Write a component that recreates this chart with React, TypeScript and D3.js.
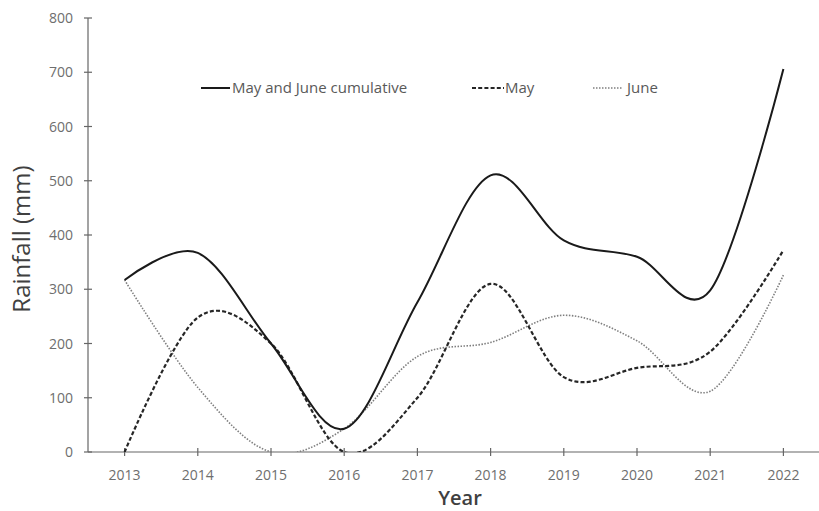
import React from "react";
import * as d3 from "d3";

const years = [2013, 2014, 2015, 2016, 2017, 2018, 2019, 2020, 2021, 2022];
const cumulative = [317, 367, 200, 43, 276, 510, 390, 360, 298, 706];
const may = [0, 248, 200, 0, 100, 310, 138, 155, 185, 372];
const june = [317, 119, 0, 43, 176, 202, 252, 205, 112, 326];
const yTicks = [0, 100, 200, 300, 400, 500, 600, 700, 800];

const W = 819;
const H = 511;

export default function App() {
  const x = d3.scaleLinear().domain([2012.5, 2022.5]).range([88, 820]);
  const y = d3.scaleLinear().domain([0, 800]).range([452, 18]);
  const line = (vals: number[]) =>
    d3
      .line<number>()
      .x((_, i) => x(years[i]))
      .y((v) => y(v))
      .curve(d3.curveCardinal.tension(0))(vals) || "";

  const font = "'Open Sans', 'DejaVu Sans', sans-serif";
  const axisColor = "#666666";
  const labelColor = "#6e6e6e";

  return (
    <svg
      width={W}
      height={H}
      style={{ position: "absolute", left: 0, top: 0, background: "#fff" }}
    >
      <defs>
        <clipPath id="plot">
          <rect x={88} y={0} width={732} height={452} />
        </clipPath>
      </defs>
      {/* y axis */}
      <line x1={88} x2={88} y1={y(800)} y2={y(0)} stroke={axisColor} strokeWidth={1.2} />
      {yTicks.map((t) => (
        <g key={t}>
          <line x1={84} x2={92} y1={y(t)} y2={y(t)} stroke={axisColor} strokeWidth={1.2} />
          <text
            x={73}
            y={y(t) + 5}
            textAnchor="end"
            fontFamily={font}
            fontSize={14}
            fill={labelColor}
          >
            {t}
          </text>
        </g>
      ))}
      {/* x axis */}
      <line x1={88} x2={820} y1={y(0)} y2={y(0)} stroke={axisColor} strokeWidth={1.2} />
      {years.map((yr) => (
        <g key={yr}>
          <line x1={x(yr)} x2={x(yr)} y1={y(0) - 4} y2={y(0) + 4} stroke={axisColor} strokeWidth={1.2} />
          <text
            x={x(yr)}
            y={480}
            textAnchor="middle"
            fontFamily={font}
            fontSize={14}
            fill={labelColor}
          >
            {yr}
          </text>
        </g>
      ))}
      {/* titles */}
      <text
        x={460}
        y={505}
        textAnchor="middle"
        fontFamily={font}
        fontSize={20}
        fontWeight={600}
        fill="#404040"
      >
        Year
      </text>
      <text
        transform={`translate(30,239) rotate(-90)`}
        textAnchor="middle"
        fontFamily={font}
        fontSize={24}
        fill="#404040"
      >
        Rainfall (mm)
      </text>
      {/* lines */}
      <g clipPath="url(#plot)" fill="none">
        <path d={line(june)} stroke="#7f7f7f" strokeWidth={1.6} strokeDasharray="1.5,1.5" />
        <path d={line(may)} stroke="#262626" strokeWidth={2.2} strokeDasharray="4,2.2" />
        <path d={line(cumulative)} stroke="#1a1a1a" strokeWidth={2} />
      </g>
      {/* legend */}
      <g fontFamily={font} fontSize={15} fill="#595959">
        <line x1={201} x2={230} y1={88} y2={88} stroke="#1a1a1a" strokeWidth={2} />
        <text x={232} y={93}>May and June cumulative</text>
        <line x1={472} x2={504} y1={88} y2={88} stroke="#262626" strokeWidth={2.2} strokeDasharray="4,2.2" />
        <text x={505} y={93}>May</text>
        <line x1={593} x2={623} y1={88} y2={88} stroke="#7f7f7f" strokeWidth={1.6} strokeDasharray="1.5,1.5" />
        <text x={627} y={93}>June</text>
      </g>
    </svg>
  );
}
